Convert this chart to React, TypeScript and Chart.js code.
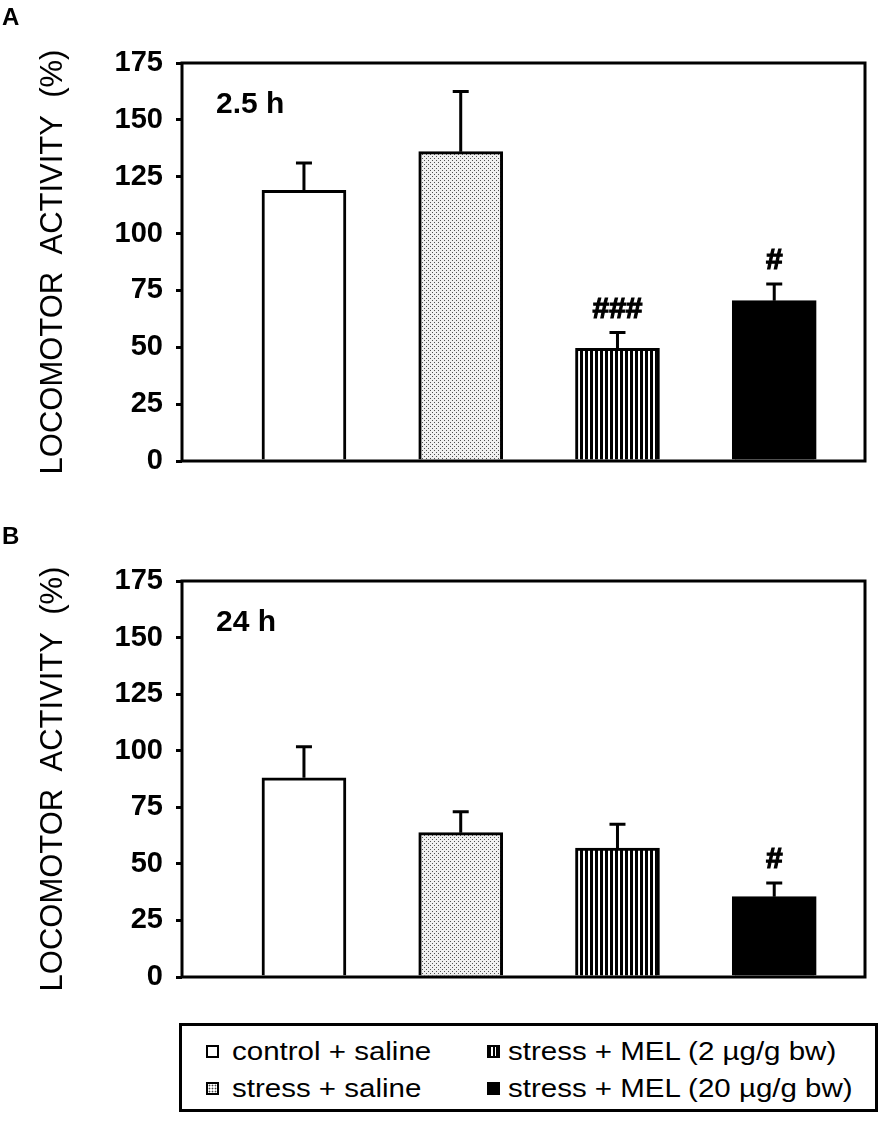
import React, { useEffect, useRef } from "react";
import { Chart, registerables } from "chart.js";
Chart.register(...registerables);

const categories = [
  "control + saline",
  "stress + saline",
  "stress + MEL (2 µg/g bw)",
  "stress + MEL (20 µg/g bw)",
];
const panelLetters = ["A", "B"];
const panelTimes = ["2.5 h", "24 h"];
const activityA = [119, 136, 49.5, 70.5];
const semA = [12, 26.5, 7, 7.3];
const signifA = ["", "", "###", "#"];
const activityB = [88, 63.8, 57, 35.5];
const semB = [13.7, 9.2, 10.5, 6];
const signifB = ["", "", "", "#"];
const yTicks = [0, 25, 50, 75, 100, 125, 150, 175];
const yTitle = "LOCOMOTOR  ACTIVITY  (%)";

const FONT = "'Liberation Sans', Arial, Helvetica, sans-serif";

function makeDots(): CanvasPattern | string {
  const c = document.createElement("canvas");
  c.width = 4;
  c.height = 4;
  const g = c.getContext("2d");
  if (!g) return "#ddd";
  g.fillStyle = "#f0f0f0";
  g.fillRect(0, 0, 4, 4);
  g.fillStyle = "#505050";
  g.fillRect(0, 0, 1, 1);
  g.fillRect(2, 2, 1, 1);
  return g.createPattern(c, "repeat") || "#ddd";
}

function makeStripes(): CanvasPattern | string {
  const c = document.createElement("canvas");
  c.width = 5;
  c.height = 4;
  const g = c.getContext("2d");
  if (!g) return "#888";
  g.fillStyle = "#fff";
  g.fillRect(0, 0, 5, 4);
  g.fillStyle = "#000";
  g.fillRect(0, 0, 3, 4);
  return g.createPattern(c, "repeat") || "#888";
}

const annotatePlugin = {
  id: "annotate",
  afterDatasetsDraw(chart: any, _args: any, opts: any) {
    const { ctx, chartArea: a, scales } = chart;
    const xs = scales.x;
    const ys = scales.y;
    ctx.save();
    ctx.strokeStyle = "#000";
    ctx.fillStyle = "#000";
    ctx.lineWidth = 3;
    (opts.means as number[]).forEach((m: number, i: number) => {
      const px = xs.getPixelForValue(i);
      const y0 = ys.getPixelForValue(m);
      const y1 = ys.getPixelForValue(m + opts.errors[i]);
      ctx.beginPath();
      ctx.moveTo(px, y0);
      ctx.lineTo(px, y1);
      ctx.moveTo(px - 8, y1);
      ctx.lineTo(px + 8, y1);
      ctx.stroke();
      if (opts.marks[i]) {
        ctx.font = `bold 30px ${FONT}`;
        ctx.textAlign = "center";
        ctx.textBaseline = "alphabetic";
        ctx.lineWidth = 1.2;
        ctx.fillText(opts.marks[i], px, y1 - 15);
        ctx.strokeText(opts.marks[i], px, y1 - 15);
        ctx.lineWidth = 3;
      }
    });
    ctx.strokeRect(a.left, a.top, a.right - a.left, a.bottom - a.top);
    ctx.font = `bold 30px ${FONT}`;
    ctx.textAlign = "left";
    ctx.textBaseline = "alphabetic";
    ctx.fillText(opts.label, a.left + 34, a.top + 50);
    ctx.restore();
  },
};

type PanelProps = {
  top: number;
  means: number[];
  errors: number[];
  marks: string[];
  label: string;
  padTop: number;
  padBottom: number;
};

function Panel({ top, means, errors, marks, label, padTop, padBottom }: PanelProps) {
  const ref = useRef<HTMLCanvasElement>(null);
  useEffect(() => {
    if (!ref.current) return;
    const fills = ["#ffffff", makeDots(), makeStripes(), "#000000"];
    const chart = new Chart(ref.current, {
      type: "bar",
      data: {
        labels: categories,
        datasets: [
          {
            data: means.map((v, i) => ({ x: i, y: v })) as any,
            backgroundColor: fills as any,
            borderColor: "#000",
            borderWidth: 3,
            barThickness: 84,
          },
        ],
      },
      options: {
        responsive: false,
        animation: false,
        layout: { padding: { left: 31, right: 21, top: padTop, bottom: padBottom } },
        plugins: {
          legend: { display: false },
          tooltip: { enabled: false },
          annotate: { means, errors, marks, label },
        } as any,
        scales: {
          x: { type: "linear", display: false, min: -0.778, max: 3.579, offset: false },
          y: {
            min: 0,
            max: 175,
            afterBuildTicks: (s: any) => {
              s.ticks = yTicks.map((v) => ({ value: v }));
            },
            ticks: {
              color: "#000",
              padding: 13,
              font: { family: FONT, size: 29, weight: "bold" },
            },
            grid: {
              drawOnChartArea: false,
              drawTicks: true,
              tickLength: 6,
              color: "#000",
              lineWidth: 3,
            },
            border: { display: false },
            title: {
              display: true,
              text: yTitle,
              color: "#000",
              font: { family: FONT, size: 31, weight: "normal" },
              padding: { top: 4, bottom: 0 },
            },
            afterFit: (s: any) => {
              s.width = 151;
            },
          } as any,
        },
      },
      plugins: [annotatePlugin as any],
    });
    return () => chart.destroy();
  }, []);
  return (
    <canvas
      ref={ref}
      width={886}
      height={500}
      style={{ position: "absolute", left: 0, top, width: 886, height: 500 }}
    />
  );
}

const swatchBg = [
  { background: "#fff" },
  {
    backgroundColor: "#fff",
    backgroundImage: "radial-gradient(circle, #444 0.8px, transparent 1.1px)",
    backgroundSize: "3px 3px",
  },
  { backgroundImage: "repeating-linear-gradient(90deg, #000 0px, #000 2px, #fff 2px, #fff 3.5px)" },
  { background: "#000" },
];

export default function App() {
  const legendPos = [
    { sx: 206, sy: 1045, tx: 232, ty: 1038.8 },
    { sx: 206, sy: 1082, tx: 232, ty: 1075.8 },
    { sx: 487, sy: 1045, tx: 507.5, ty: 1038.8 },
    { sx: 487, sy: 1082, tx: 507.5, ty: 1075.8 },
  ];
  return (
    <div
      style={{
        position: "absolute",
        left: 0,
        top: 0,
        width: 886,
        height: 1121,
        background: "#fff",
        fontFamily: FONT,
        color: "#000",
      }}
    >
      <Panel top={0} means={activityA} errors={semA} marks={signifA} label={panelTimes[0]} padTop={63} padBottom={39} />
      <Panel top={519} means={activityB} errors={semB} marks={signifB} label={panelTimes[1]} padTop={62} padBottom={42} />
      {panelLetters.map((l, i) => (
        <div
          key={l}
          style={{
            position: "absolute",
            left: 2,
            top: i === 0 ? 5 : 524,
            fontSize: 24,
            lineHeight: "24px",
            fontWeight: "bold",
          }}
        >
          {l}
        </div>
      ))}
      <div
        style={{
          position: "absolute",
          left: 179,
          top: 1023,
          width: 699,
          height: 89,
          border: "3px solid #000",
          boxSizing: "border-box",
        }}
      />
      {categories.map((c, i) => (
        <React.Fragment key={c}>
          <div
            style={{
              position: "absolute",
              left: legendPos[i].sx,
              top: legendPos[i].sy,
              width: 13,
              height: 13,
              border: "2px solid #000",
              boxSizing: "border-box",
              ...swatchBg[i],
            }}
          />
          <span
            style={{
              position: "absolute",
              left: legendPos[i].tx,
              top: legendPos[i].ty,
              fontSize: 25,
              lineHeight: "25px",
              whiteSpace: "nowrap",
              transform: "scaleX(1.18)",
              transformOrigin: "0 0",
            }}
          >
            {c}
          </span>
        </React.Fragment>
      ))}
    </div>
  );
}
